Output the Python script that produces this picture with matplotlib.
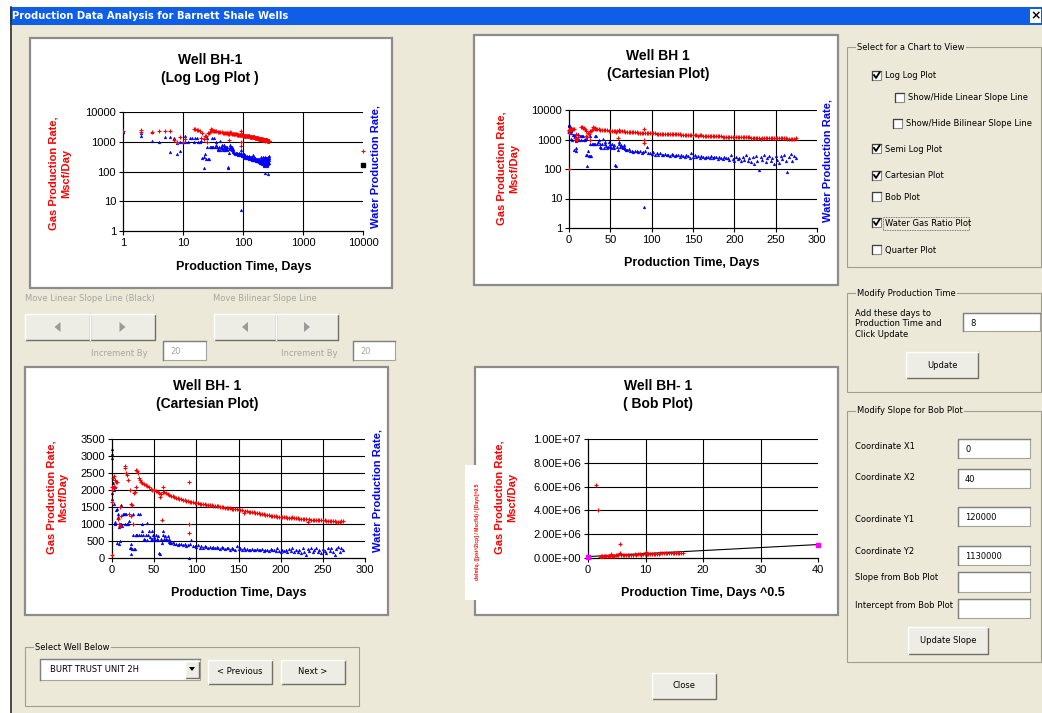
import matplotlib
matplotlib.use("Agg")
import matplotlib.pyplot as plt
import numpy as np
from matplotlib.patches import Rectangle, Polygon
from matplotlib.lines import Line2D
from matplotlib.ticker import NullLocator

# ---- data ----
# gas rate (Mscf/day), first month, day by day
gas_days_early = [0, 0, 0, 0, 1, 2, 2, 3, 4, 5, 6, 7, 8, 9, 10, 11,
                  15, 16, 17, 18, 19, 20, 21, 22, 23, 24, 25, 26, 27, 28, 29, 30, 31, 32, 33]
gas_early = [100, 1650, 2000, 2100, 2350, 2100, 2400, 2100, 2300, 2250, 2250, 1150, 1000, 1500, 950, 1250,
             2700, 2650, 2500, 2450, 2300, 1300, 2000, 1250, 1600, 1550, 1000, 1900, 1950, 2100, 2600, 2550, 2500, 2350, 2300]
# gas rate, every second day from day 34 to day 274
gas_days_main = np.arange(34, 276, 2)
gas_main = [2250, 2220, 2180, 2150, 2120, 2080, 2040, 2010, 1990, 1960,
            1950, 1900, 1870, 1930, 1950, 1900, 1880, 1850, 1830, 1810,
            1790, 1770, 1760, 1740, 1730, 1710, 1700, 1690, 1680, 1660,
            1650, 1640, 1630, 1620, 1610, 1600, 1590, 1580, 1575, 1570,
            1560, 1550, 1545, 1540, 1530, 1520, 1515, 1505, 1500, 1490,
            1480, 1470, 1465, 1460, 1450, 1445, 1440, 1430, 1420, 1410,
            1400, 1330, 1380, 1370, 1365, 1360, 1350, 1340, 1330, 1320,
            1310, 1300, 1290, 1280, 1275, 1265, 1260, 1250, 1240, 1235,
            1230, 1220, 1215, 1210, 1205, 1200, 1195, 1190, 1185, 1180,
            1200, 1175, 1170, 1165, 1160, 1155, 1150, 1145, 1140, 1060,
            1135, 1130, 1125, 1125, 1120, 1120, 1115, 1110, 1110, 1105,
            1100, 1100, 1095, 1090, 1085, 1075, 1070, 1060, 1060, 1080,
            1100]
gas_days_odd = [57, 59, 61, 91, 91, 91]
gas_odd = [1800, 1130, 2100, 2230, 1000, 740]

# water rate
water_days_early = [0, 0, 0, 0, 0, 1, 1, 2, 2, 3, 3, 4, 5, 6, 6, 7, 7, 8, 8, 9, 9, 10, 11, 11, 12,
                    13, 14, 15, 16, 17, 18, 19, 20, 21, 22, 22, 23, 24, 25, 25,
                    26, 27, 28, 29, 30, 31, 32, 33, 34, 35, 36, 37, 38, 39, 40, 41, 42, 43, 44, 45, 46, 47,
                    48, 49, 50, 51, 52, 53, 54, 55, 56, 57, 58, 59, 60, 61, 62, 63, 64, 65, 66, 67, 68, 69]
water_early = [3200, 3050, 2950, 1750, 1900, 2200, 2100, 2000, 1600, 2100, 1050, 1000, 1400, 1450, 450,
               1300, 1200, 400, 900, 950, 500, 1000, 1550, 1000, 950,
               1300, 1300, 1000, 1300, 1300, 1000, 1000, 1100, 290, 300, 130, 400, 270, 1300, 680,
               270, 270, 680, 680, 680, 1300, 680, 1300, 680, 800, 1000, 680, 560, 520, 680, 1030, 520, 680, 800, 620, 520, 560,
               800, 680, 620, 520, 680, 560, 650, 520, 140, 130, 560, 430, 800, 680, 560, 650, 560, 520, 650, 560, 480, 450]
water_days_main = np.arange(70, 276, 2)
water_main = [430, 470, 400, 420, 380, 420, 400, 370, 410, 360,
              380, 420, 540, 350, 340, 330, 380, 300, 340, 290,
              360, 310, 300, 330, 290, 310, 280, 320, 300, 270,
              310, 290, 260, 300, 280, 250, 300, 270, 240, 350,
              260, 300, 250, 280, 240, 270, 250, 230, 260, 250,
              240, 270, 230, 250, 260, 220, 250, 240, 210, 260,
              230, 240, 200, 300, 220, 190, 250, 210, 230, 180,
              260, 200, 300, 190, 230, 170, 250, 150, 280, 180,
              90, 260, 200, 300, 170, 240, 280, 190, 230, 150,
              270, 200, 160, 280, 210, 300, 180, 80, 260, 320,
              190, 280, 240]
water_days_odd = [91]
water_odd = [5]

# extra points on the log-log chart (slope line ends)
loglog_red_x, loglog_red_y = [10000], [500]
loglog_black_x, loglog_black_y = [10000], [170]

# bob plot
bob_x = [1.4, 1.7, 2.0, 2.2, 2.4, 2.6, 2.8, 3.0, 3.2, 3.4, 3.6, 3.8, 4.0, 4.2, 4.4, 4.6, 4.8, 5.0, 5.2,
         5.5, 5.5, 5.8, 6.0, 6.3, 6.6, 6.9, 7.2, 7.5, 7.8, 8.1, 8.4, 8.7, 9.0, 9.3, 9.6, 9.9, 10.0,
         10.2, 10.5, 10.8, 11.1, 11.4, 11.7, 12.0, 12.3, 12.6, 12.9, 13.2, 13.5, 13.8, 14.1, 14.4,
         14.7, 15.0, 15.3, 15.6, 15.9, 16.2, 16.5]
bob_y = [6.1e6, 4.05e6, 1.1e5, 1.3e5, 1.5e5, 1.2e5, 1.6e5, 1.4e5, 1.5e5, 1.7e5, 1.6e5, 1.8e5, 3.2e5, 2.0e5,
         1.9e5, 2.1e5, 2.2e5, 2.5e5, 2.3e5, 1.2e6, 4.5e5, 2.6e5, 2.4e5, 2.5e5, 2.7e5, 2.6e5, 2.8e5, 2.7e5,
         2.9e5, 3.5e5, 2.9e5, 3.0e5, 3.1e5, 2.9e5, 3.1e5, 3.2e5, 5.0e5, 3.2e5, 3.3e5, 3.4e5, 3.4e5, 3.5e5,
         3.6e5, 3.6e5, 3.7e5, 3.8e5, 3.8e5, 3.9e5, 3.9e5, 4.0e5, 4.1e5, 4.1e5, 4.2e5, 4.3e5, 4.3e5, 4.4e5,
         4.5e5, 4.5e5, 4.6e5]
slope_x = [0, 40]
slope_y = [120000, 1130000]

# form contents
chart_options = ["Log Log Plot", "Show/Hide Linear Slope Line", "Show/Hide Bilinear Slope Line",
                 "Semi Log Plot", "Cartesian Plot", "Bob Plot", "Water Gas Ratio Plot", "Quarter Plot"]
chart_checked = [True, False, False, True, True, False, True, False]
slope_fields = ["Coordinate X1", "Coordinate X2", "Coordinate Y1", "Coordinate Y2",
                "Slope from Bob Plot", "Intercept from Bob Plot"]
slope_values = ["0", "40", "120000", "1130000", "", ""]

gas_days = np.concatenate([gas_days_early, gas_days_main, gas_days_odd])
gas_rate = np.concatenate([gas_early, gas_main, gas_odd])
water_days = np.concatenate([water_days_early, water_days_main, water_days_odd])
water_rate = np.concatenate([water_early, water_main, water_odd])

W, H = 1042, 713
BEIGE = '#ece9d8'
CF = 'Liberation Sans'
FF = 'DejaVu Sans'

fig = plt.figure(figsize=(W / 100, H / 100), dpi=100)
fig.patch.set_facecolor('white')


def fx(x):
    return x / W


def fy(y):
    return 1 - y / H


def rect(x0, y0, x1, y1, **kw):
    kw.setdefault('zorder', -5)
    fig.add_artist(Rectangle((fx(x0), fy(y1)), (x1 - x0) / W, (y1 - y0) / H,
                             transform=fig.transFigure, **kw))


def line(xs, ys, **kw):
    kw.setdefault('zorder', -4)
    fig.add_artist(Line2D([fx(x) for x in xs], [fy(y) for y in ys], transform=fig.transFigure, **kw))


def poly(pts, **kw):
    kw.setdefault('zorder', -4)
    fig.add_artist(Polygon([(fx(x), fy(y)) for x, y in pts], closed=True, transform=fig.transFigure, **kw))


def text(x, y, s, **kw):
    kw.setdefault('fontfamily', FF)
    kw.setdefault('fontsize', 6)
    kw.setdefault('va', 'center')
    fig.text(fx(x), fy(y), s, **kw)


def button(x0, y0, x1, y1, label=None, color='black'):
    rect(x0, y0, x1, y1, fc='#eeede5', ec='none')
    line([x0, x1, x1], [y1, y1, y0], color='#716f64', lw=1.0)
    line([x0, x0, x1], [y1, y0, y0], color='white', lw=1.0)
    if label:
        text((x0 + x1) / 2, (y0 + y1) / 2, label, ha='center', color=color)


def textbox(x0, y0, x1, y1, value, color='black'):
    rect(x0, y0, x1, y1, fc='white', ec='#a5a39a', lw=0.8)
    line([x0, x0, x1], [y1, y0, y0], color='#808080', lw=1.0)
    if value:
        text(x0 + 7, (y0 + y1) / 2 + 1, value, color=color)


def group(x0, y0, x1, y1, label):
    rect(x0, y0, x1, y1, fc='none', ec='#a09e92', lw=0.8)
    text(x0 + 10, y0, label, bbox=dict(fc=BEIGE, ec='none', pad=1.0), zorder=-3)


def checkbox(x, y, checked):
    rect(x, y - 5, x + 9, y + 4, fc='white', ec='#8a8a8a', lw=0.8)
    line([x, x, x + 9], [y + 4, y - 5, y - 5], color='#404040', lw=0.9)
    if checked:
        line([x + 2, x + 4, x + 7.5], [y - 1, y + 2, y - 3.5], color='black', lw=1.3, zorder=-3)


# ---- window ----
rect(10, 7, 1042, 713, fc=BEIGE, ec='none', zorder=-10)
line([10.5, 10.5], [7, 713], color='#303030', lw=1.2)
rect(10, 7, 1042, 25, fc='#0f5ee8', ec='none', zorder=-9)
text(12, 16, "Production Data Analysis for Barnett Shale Wells", color='white', fontweight='bold', fontsize=7.2)
rect(1030, 9, 1041, 23, fc='white', ec='none', zorder=-8)
text(1035.5, 16, "×", color='black', fontweight='bold', fontsize=9, ha='center')

# chart panels
for (x0, y0, x1, y1) in [(30, 38, 392, 288), (474, 35, 838, 285), (25, 367, 388, 615), (475, 367, 838, 615)]:
    rect(x0, y0, x1, y1, fc='white', ec='#8c8c8c', lw=1.6)


def chart_axes(x0, y0, x1, y1):
    ax = fig.add_axes([x0 / W, 1 - y1 / H, (x1 - x0) / W, (y1 - y0) / H])
    ax.set_facecolor('none')
    for s in ('top', 'right'):
        ax.spines[s].set_visible(False)
    for s in ('left', 'bottom'):
        ax.spines[s].set_linewidth(0.9)
    ax.tick_params(direction='out', length=3, width=0.8, labelsize=8, pad=2)
    return ax


def grid(ax, xt, yt):
    for gx in xt[1:-1]:
        ax.axvline(gx, color='black', lw=0.8, zorder=0.5)
    for gy in yt[1:]:
        ax.axhline(gy, color='black', lw=0.8, zorder=0.5)


def fonts(ax):
    for lab in ax.get_xticklabels() + ax.get_yticklabels():
        lab.set_fontfamily(CF)


def chart_text(cx, t1, t2, ty, xl, xlx, xly, ylx, yly, rx, ry):
    text(cx, ty, t1, fontfamily=CF, fontsize=10, fontweight='bold', ha='center')
    text(cx, ty + 18, t2, fontfamily=CF, fontsize=10, fontweight='bold', ha='center')
    text(xlx, xly, xl, fontfamily=CF, fontsize=9, fontweight='bold', ha='center')
    text(ylx, yly, "Gas Production Rate,\nMscf/Day", fontfamily=CF, fontsize=8, fontweight='bold',
         color='red', ha='center', rotation=90, linespacing=1.25)
    if rx is not None:
        text(rx, ry, "Water Production Rate,", fontfamily=CF, fontsize=8, fontweight='bold',
             color='blue', ha='center', rotation=90)


red_kw = dict(ls='none', marker='+', color='red', ms=3.0, mew=0.8, zorder=3)
blue_kw = dict(ls='none', marker='^', color='blue', ms=2.0, mew=0.3, zorder=2)

# ---- chart 1: log-log ----
ax1 = chart_axes(123, 112, 363, 231)
ax1.set_xscale('log')
ax1.set_yscale('log')
dec = [1, 10, 100, 1000, 10000]
ax1.set_xlim(1, 10000)
ax1.set_ylim(1, 10000)
ax1.set_xticks(dec, [str(d) for d in dec])
ax1.set_yticks(dec, [str(d) for d in dec])
ax1.xaxis.set_minor_locator(NullLocator())
ax1.yaxis.set_minor_locator(NullLocator())
grid(ax1, dec, dec)
gm = gas_days > 0
wm = (water_days > 0) & (water_rate > 0)
ax1.plot(water_days[wm], water_rate[wm], **blue_kw)
ax1.plot(gas_days[gm], gas_rate[gm], **red_kw)
ax1.plot(loglog_red_x, loglog_red_y, clip_on=False, **red_kw)
ax1.plot(loglog_black_x, loglog_black_y, ls='none', marker='s', color='black', ms=3.5, clip_on=False)
fonts(ax1)
chart_text(210, "Well BH-1", "(Log Log Plot )", 60, "Production Time, Days", 244, 267, 60, 173, 376, 166)

# ---- chart 2: semi-log ----
ax2 = chart_axes(569, 110, 817, 228)
ax2.set_yscale('log')
xt2 = [0, 50, 100, 150, 200, 250, 300]
ax2.set_xlim(0, 300)
ax2.set_ylim(1, 10000)
ax2.set_xticks(xt2, [str(v) for v in xt2])
ax2.set_yticks(dec, [str(d) for d in dec])
ax2.yaxis.set_minor_locator(NullLocator())
grid(ax2, xt2, dec)
ax2.plot(water_days, water_rate, clip_on=False, **blue_kw)
ax2.plot(gas_days, gas_rate, clip_on=False, **red_kw)
fonts(ax2)
chart_text(658, "Well BH 1", "(Cartesian Plot)", 56, "Production Time, Days", 692, 263, 508, 168, 828, 161)

# ---- chart 3: cartesian ----
ax3 = chart_axes(112, 439, 365, 558)
yt3 = list(range(0, 3501, 500))
ax3.set_xlim(0, 300)
ax3.set_ylim(0, 3500)
ax3.set_xticks(xt2, [str(v) for v in xt2])
ax3.set_yticks(yt3, [str(v) for v in yt3])
grid(ax3, xt2, yt3)
ax3.plot(water_days, water_rate, clip_on=False, **blue_kw)
ax3.plot(gas_days, gas_rate, clip_on=False, **red_kw)
fonts(ax3)
chart_text(207, "Well BH- 1", "(Cartesian Plot)", 386, "Production Time, Days", 239, 593, 57, 497, 377, 491)

# ---- chart 4: bob plot ----
ax4 = chart_axes(588, 439, 818, 558)
xt4 = [0, 10, 20, 30, 40]
yt4 = [0, 2e6, 4e6, 6e6, 8e6, 1e7]
ax4.set_xlim(0, 40)
ax4.set_ylim(0, 1e7)
ax4.set_xticks(xt4, [str(v) for v in xt4])
ax4.set_yticks(yt4, ["%.2E" % v for v in yt4])
grid(ax4, xt4, yt4)
ax4.plot(bob_x, bob_y, **red_kw)
ax4.plot(slope_x, slope_y, color='black', lw=0.8, zorder=2)
ax4.plot(slope_x, slope_y, ls='none', marker='s', color='#ff00ff', ms=3.5, clip_on=False, zorder=4)
fonts(ax4)
chart_text(658, "Well BH- 1", "( Bob Plot)", 386, "Production Time, Days ^0.5", 703, 593, 506, 497, None, None)
rect(465, 465, 490, 600, fc='white', ec='none', zorder=-3)
text(478, 532, "delmlq. ([psi^2/cp] / Mscf/d) / [Days]^0.5", fontfamily=CF, fontsize=3.6, fontweight='bold',
     color='red', ha='center', rotation=90)

# ---- slope line controls ----
text(25, 298, "Move Linear Slope Line (Black)", color='#a7a6a0')
text(213, 298, "Move Bilinear Slope Line", color='#a7a6a0')
for (x0, x1, d) in [(25, 90, -1), (90, 155, 1), (214, 276, -1), (276, 338, 1)]:
    button(x0, 314, x1, 340)
    cx = (x0 + x1) / 2
    poly([(cx - 3 * d, 322), (cx - 3 * d, 332), (cx + 3 * d, 327)], fc='#9a9a9a', ec='none')
text(148, 353, "Increment By", color='#a7a6a0', ha='right')
textbox(163, 341, 206, 360, "20", color='#a7a6a0')
text(338, 353, "Increment By", color='#a7a6a0', ha='right')
textbox(353, 341, 395, 360, "20", color='#a7a6a0')

# ---- chart selection ----
group(847, 47, 1041, 267, "Select for a Chart to View")
opt_x = [872, 895, 893, 872, 872, 872, 872, 872]
opt_y = [76, 98, 124, 149, 176, 197, 223, 250]
for name, chk, x, y in zip(chart_options, chart_checked, opt_x, opt_y):
    checkbox(x, y, chk)
    text(x + 13, y, name)
rect(883, 217, 969, 230, fc='none', ec='#555555', lw=0.6, ls=(0, (1, 1)))

group(847, 293, 1041, 392, "Modify Production Time")
text(855, 324, "Add these days to\nProduction Time and\nClick Update", linespacing=1.15)
textbox(963, 313, 1040, 331, "8")
button(906, 352, 978, 378, "Update")

group(847, 411, 1041, 662, "Modify Slope for Bob Plot")
field_y = [447, 478, 520, 552, 578, 606]
box_y = [(439, 458), (469, 488), (507, 526), (546, 565), (572, 592), (599, 618)]
for name, val, ly, (b0, b1) in zip(slope_fields, slope_values, field_y, box_y):
    text(855, ly, name)
    textbox(958, b0, 1030, b1, val)
button(908, 627, 988, 654, "Update Slope")

# ---- well selection ----
group(25, 647, 359, 706, "Select Well Below")
textbox(40, 659, 200, 680, "")
text(50, 669.5, "BURT TRUST UNIT 2H")
button(185, 661, 199, 678)
poly([(189, 667), (195, 667), (192, 671)], fc='black', ec='none')
button(208, 660, 272, 684, "< Previous")
button(281, 660, 345, 684, "Next >")
button(652, 673, 716, 699, "Close")

fig.savefig("out.png", dpi=100, facecolor='white')
